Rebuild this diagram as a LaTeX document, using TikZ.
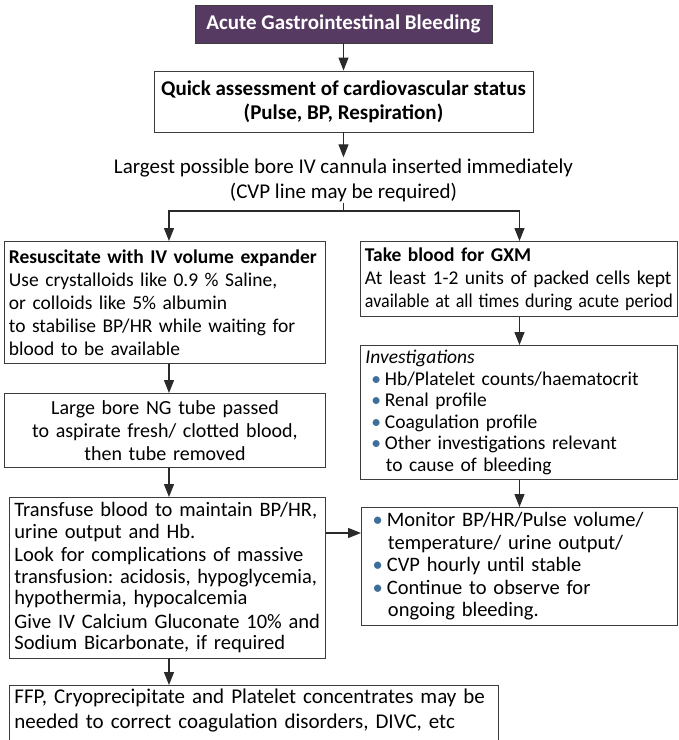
\documentclass[tikz,border=0pt]{standalone}
\usepackage{fontspec}
\setmainfont{Carlito}
\usetikzlibrary{arrows.meta,calc}
\definecolor{titlepurple}{HTML}{563A62}
\definecolor{linegray}{HTML}{2A2A2A}
\definecolor{boxgray}{HTML}{3C3C3C}
\definecolor{bulblue}{HTML}{3E6F9A}
\newcommand{\bul}{\hspace*{0.3em}{\color{bulblue}\textbullet}\hspace{0.2em}}
\newcommand{\cont}{\hspace*{1.05em}}
\newcommand{\fs}[2]{\fontsize{#1}{#2}\selectfont}
\frenchspacing
\hyphenpenalty=10000
\exhyphenpenalty=10000
\tikzset{
  box/.style={draw=boxgray, line width=0.9pt, fill=white, inner sep=5pt,
    font=\fs{19.5}{23}, anchor=north west},
  titlebox/.style={draw=boxgray, line width=0.9pt, fill=titlepurple, text=white,
    font=\bfseries\fs{21}{24}},
  plain/.style={font=\fs{21}{25}, align=center, inner sep=1pt},
  arr/.style={draw=linegray, line width=1.2pt, -{Triangle[width=10pt,length=13pt]}},
  conn/.style={draw=linegray, line width=1.2pt}
}
\begin{document}
\begin{tikzpicture}[x=1pt,y=-1pt]
\useasboundingbox (0,0) rectangle (679,740);
\clip (0,0) rectangle (679,740);

\node[titlebox, minimum width=297pt, minimum height=38pt] (title) at (343.5,24) {Acute Gastrointestinal Bleeding};

\node[box, anchor=center, minimum width=379pt, minimum height=61pt, align=center, font=\bfseries\fs{21}{24}] (quick) at (343.5,101.5)
  {Quick assessment of cardiovascular status\\(Pulse, BP, Respiration)};

\node[plain] (cann) at (343.5,180) {Largest possible bore IV cannula inserted immediately\\(CVP line may be required)};

\coordinate (junc) at (343.5,211);
\coordinate (colL) at (169,0);
\coordinate (colR) at (519.5,0);
\coordinate (rowM) at (0,533);

\node[box, minimum width=321pt, minimum height=122pt, text width=312pt, align=left, inner xsep=4.5pt] (res) at (4,241)
  {\mbox{\textbf{Resuscitate with IV volume expander}}\\
   Use crystalloids like 0.9 \% Saline,\\
   or colloids like 5\% albumin\\
   \mbox{to stabilise BP/HR while waiting for}\\
   blood to be available};

\node[box, minimum width=317pt, minimum height=75pt, text width=308pt, align=left, inner xsep=4pt] (gxm) at (360,241)
  {\textbf{Take blood for GXM}\\
   \mbox{At least 1-2 units of packed cells kept}\\
   \resizebox{308pt}{\height}{available at all times during acute period}};

\node[box, minimum width=317pt, minimum height=133pt, text width=307pt, align=left, font=\fs{19.5}{21.5}] (inv) at (360,345)
  {\textit{Investigations}\\
   \bul Hb/Platelet counts/haematocrit\\
   \bul Renal profile\\
   \bul Coagulation profile\\
   \bul Other investigations relevant\\
   \cont to cause of bleeding};

\node[box, minimum width=321pt, minimum height=74pt, text width=311pt, align=center, font=\fs{20}{23}] (ng) at (4,393)
  {Large bore NG tube passed\\
   to aspirate fresh/ clotted blood,\\
   then tube removed};

\node[box, minimum width=316pt, minimum height=159pt, text width=306pt, align=left, font=\fs{20.5}{21.5}] (trans) at (9,497)
  {\mbox{Transfuse blood to maintain BP/HR,}\\
   urine output and Hb.\\[2pt]
   Look for complications of massive\\
   \mbox{transfusion: acidosis, hypoglycemia,}\\
   hypothermia, hypocalcemia\\[2pt]
   \mbox{Give IV Calcium Gluconate 10\% and}\\
   Sodium Bicarbonate, if required};

\node[box, minimum width=316pt, minimum height=114pt, text width=306pt, align=left, font=\fs{20.5}{22.5}] (mon) at (361,507)
  {\bul Monitor BP/HR/Pulse volume/\\
   \cont temperature/ urine output/\\
   \bul CVP hourly until stable\\
   \bul Continue to observe for\\
   \cont ongoing bleeding.};

\node[box, text width=479pt, align=left, font=\fs{21}{25}, inner ysep=3pt] (ffp) at (9,685)
  {\mbox{FFP, Cryoprecipitate and Platelet concentrates may be}\\
   needed to correct coagulation disorders, DIVC, etc\\
   \mbox{}};

\draw[arr] (title.south) -- (quick.north);
\draw[arr] (quick.south) -- (cann.north);
\draw[conn] (cann.south) -- (junc);
\draw[arr] (junc) -| (res.north -| colL);
\draw[arr] (junc) -| (gxm.north -| colR);
\draw[arr] (res.south -| colL) -- (ng.north -| colL);
\draw[arr] (ng.south -| colL) -- (trans.north -| colL);
\draw[arr] (trans.south -| colL) -- (ffp.north -| colL);
\draw[arr] (gxm.south -| colR) -- (inv.north -| colR);
\draw[arr] (inv.south -| colR) -- (mon.north -| colR);
\draw[arr] (trans.east |- rowM) -- (mon.west |- rowM);
\end{tikzpicture}
\end{document}
